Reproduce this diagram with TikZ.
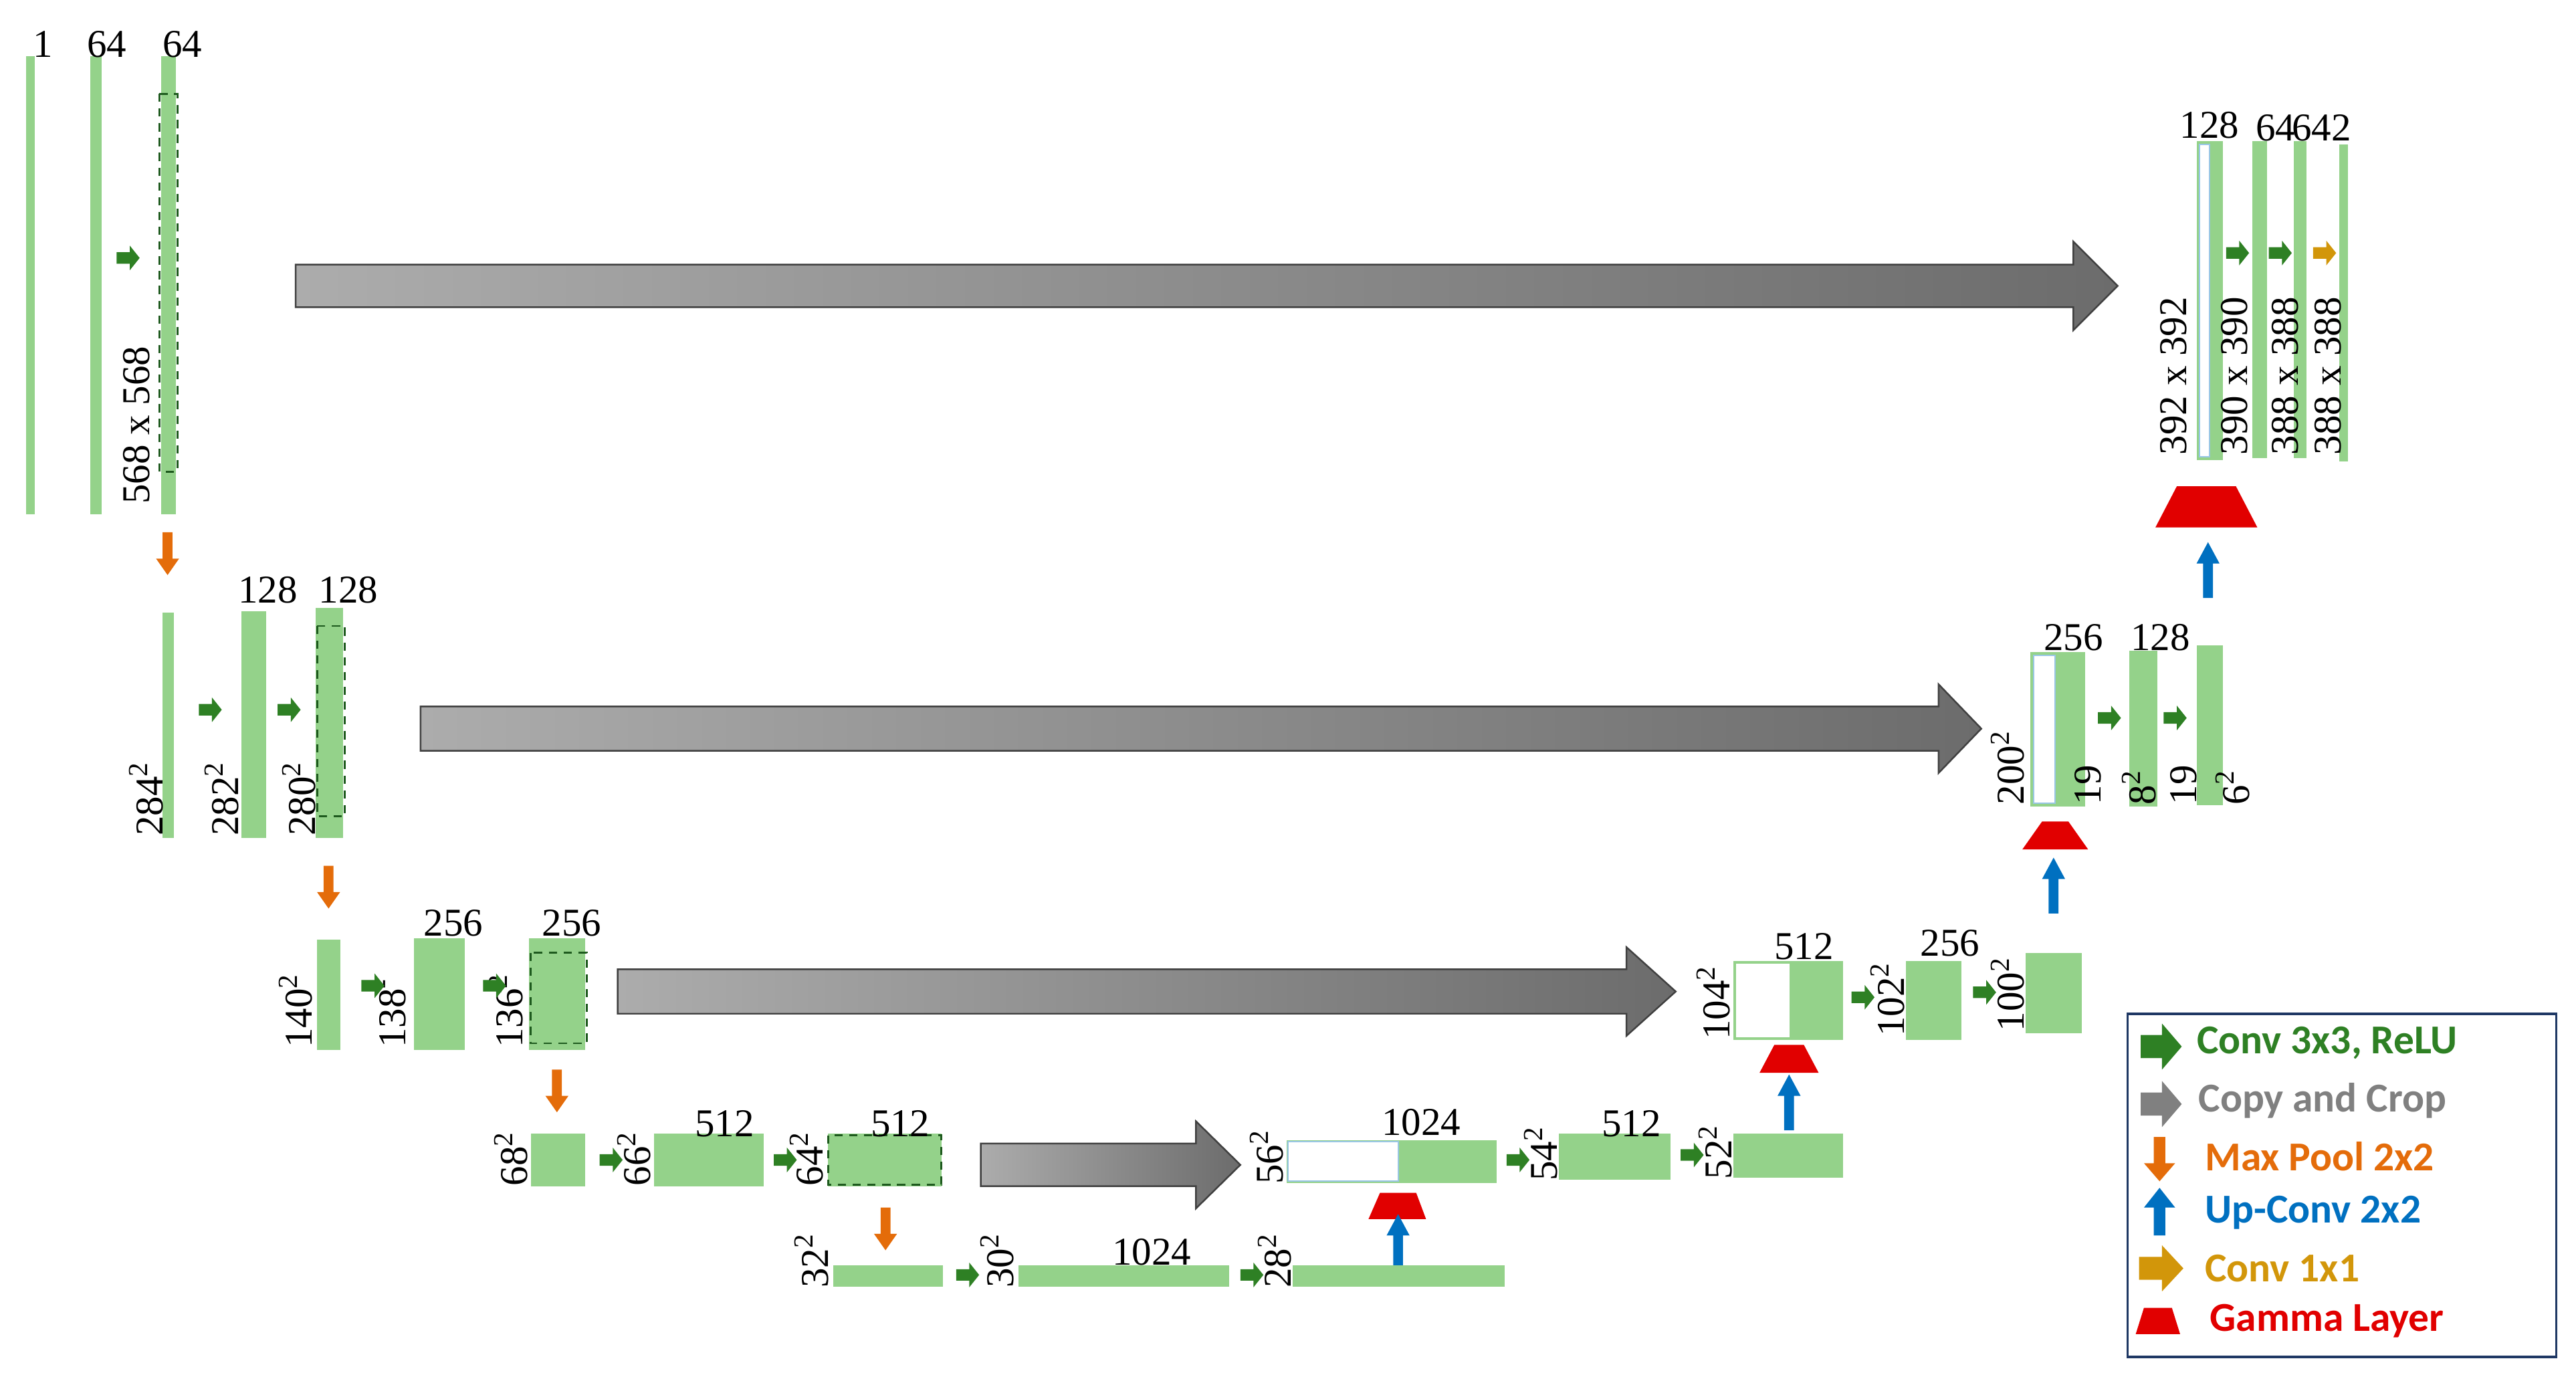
\documentclass[tikz,border=0pt]{standalone}
\usepackage{fontspec}
\newfontfamily\legfont{Carlito}
\newfontfamily\numfont{Liberation Serif}
\begin{document}
\definecolor{barg}{RGB}{148,210,138}
\definecolor{convg}{RGB}{46,128,36}
\definecolor{poolo}{RGB}{228,108,10}
\definecolor{upb}{RGB}{0,112,192}
\definecolor{gold}{RGB}{210,150,10}
\definecolor{gred}{RGB}{225,0,0}
\definecolor{cpl}{RGB}{172,172,172}
\definecolor{cpr}{RGB}{108,108,108}
\definecolor{cpg}{RGB}{128,128,128}
\definecolor{navy}{RGB}{31,56,100}
\definecolor{dashg}{RGB}{30,90,30}
\newcommand\mycparr[6]{\shade[draw=black!75,line width=1pt,left color=cpl,right color=cpr]
 (#1,#4-#5)--(#2,#4-#5)--(#2,#4-#6)--(#3,#4)--(#2,#4+#6)--(#2,#4+#5)--(#1,#4+#5)--cycle;}
\begin{tikzpicture}[x=1pt,y=-1pt,
  bar/.style={fill=barg},
  dsh/.style={draw=dashg,dashed,line width=1.2pt,dash pattern=on 5pt off 4pt},
  num/.style={font=\numfont\fontsize{24}{24}\selectfont,inner sep=0pt},
  vl/.style={num,rotate=90,anchor=west},
  garr/.pic={\fill[convg] (-7,-3.5)--(1,-3.5)--(1,-7.5)--(7,0)--(1,7.5)--(1,3.5)--(-7,3.5)--cycle;},
  oarr/.pic={\fill[gold] (-7,-3.5)--(1,-3.5)--(1,-7.5)--(7,0)--(1,7.5)--(1,3.5)--(-7,3.5)--cycle;},
  parr/.pic={\fill[poolo] (-3,-13)--(3,-13)--(3,3)--(7,3)--(0,13)--(-7,3)--(-3,3)--cycle;},
  uarr/.pic={\fill[upb] (-3,17)--(3,17)--(3,-4)--(7,-4)--(0,-17)--(-7,-4)--(-3,-4)--cycle;}]
\useasboundingbox (0,0) rectangle (1568,838);
% ---------- level 1
\fill[bar] (16,34) rectangle (21,313);
\fill[bar] (55,34) rectangle (62,313);
\fill[bar] (98,34) rectangle (107,313);
\draw[dsh] (97,57) rectangle (108,287);
\node[num] (l1a) at (26,27) {1};
\node[num] (l1b) at (65,27) {64};
\node[num] (l1c) at (111,27) {64};
\node[vl] (l1d) at (83,307) {568 x 568};
\pic at (78,157) {garr};
\mycparr{180}{1262}{1289}{174}{13}{27}
\pic at (102,337) {parr};
% right top
\fill[bar] (1337,86) rectangle (1353,280);
\draw[draw=upb!40,fill=white,line width=0.8pt] (1339,88) rectangle (1345,278);
\fill[bar] (1371,86) rectangle (1380,279);
\fill[bar] (1396,86) rectangle (1404,279);
\fill[bar] (1424,88) rectangle (1429,281);
\node[num] (r1a) at (1345,76) {128};
\node[num] (r1b) at (1385,78) {64};
\node[num] (r1c) at (1413,78) {642};
\node[vl] (r1d) at (1323,277) {392 x 392};
\node[vl] (r1e) at (1360,277) {390 x 390};
\node[vl] (r1f) at (1391,277) {388 x 388};
\node[vl] (r1g) at (1417,277) {388 x 388};
\pic at (1362,154) {garr};
\pic at (1388,154) {garr};
\pic at (1415,154) {oarr};
\fill[gred] (1312,321)--(1374,321)--(1361,296)--(1325,296)--cycle;
\pic at (1344,347) {uarr};
% ---------- level 2
\fill[bar] (99,373) rectangle (106,510);
\fill[bar] (147,372) rectangle (162,510);
\fill[bar] (192,370) rectangle (209,510);
\draw[dsh] (193,381) rectangle (210,497);
\node[num] (l2a) at (163,359) {128};
\node[num] (l2b) at (212,359) {128};
\node[vl] (l2c) at (89,509) {284\textsuperscript{2}};
\node[vl] (l2d) at (135,509) {282\textsuperscript{2}};
\node[vl] (l2e) at (182,509) {280\textsuperscript{2}};
\pic at (128,432) {garr};
\pic at (176,432) {garr};
\mycparr{256}{1180}{1206}{443.5}{13.5}{27}
\pic at (200,540) {parr};
% right
\fill[bar] (1236,397) rectangle (1269,491);
\draw[draw=upb!40,fill=white,line width=0.8pt] (1238,399) rectangle (1251,489);
\fill[bar] (1296,396) rectangle (1313,491);
\fill[bar] (1337,393) rectangle (1353,490);
\node[num] (r2a) at (1262,388) {256};
\node[num] (r2b) at (1315,388) {128};
\node[vl] (r2c) at (1222,490) {200\textsuperscript{2}};
\node[vl] (r2d) at (1271,490) {19};
\node[vl] (r2e) at (1302,490) {8\textsuperscript{2}};
\node[vl] (r2f) at (1329,490) {19};
\node[vl] (r2g) at (1359,490) {6\textsuperscript{2}};
\pic at (1284,437) {garr};
\pic at (1324,437) {garr};
\fill[gred] (1231,517)--(1271,517)--(1259,500)--(1243,500)--cycle;
\pic at (1250,539) {uarr};
% ---------- level 3
\fill[bar] (193,572) rectangle (207,639);
\fill[bar] (252,571) rectangle (283,639);
\fill[bar] (322,571) rectangle (356,639);
\draw[dsh] (323,580) rectangle (357,635);
\node[num] (l3a) at (276,562) {256};
\node[num] (l3b) at (348,562) {256};
\node[vl] (l3c) at (180,638) {140\textsuperscript{2}};
\node[vl] (l3d) at (239,638) {138\textsuperscript{-}};
\node[vl] (l3e) at (308,638) {136\textsuperscript{2}};
\pic at (227,600) {garr};
\pic at (301,600) {garr};
\mycparr{376}{990}{1020}{603.5}{13.5}{27}
\pic at (339,664) {parr};
% right
\fill[bar] (1055,585) rectangle (1122,633);
\draw[draw=barg,fill=white,line width=1.5pt] (1056,586) rectangle (1090,632);
\fill[bar] (1160,585) rectangle (1194,633);
\fill[bar] (1233,580) rectangle (1267,629);
\node[num] (r3a) at (1098,576) {512};
\node[num] (r3b) at (1187,574) {256};
\node[vl] (r3c) at (1043,633) {104\textsuperscript{2}};
\node[vl] (r3d) at (1149,631) {102\textsuperscript{2}};
\node[vl] (r3e) at (1222,628) {100\textsuperscript{2}};
\pic at (1134,607) {garr};
\pic at (1208,604) {garr};
\fill[gred] (1071,653)--(1107,653)--(1098,636)--(1080,636)--cycle;
\pic at (1089,671) {uarr};
% ---------- level 4
\fill[bar] (323,690) rectangle (356,722);
\fill[bar] (398,690) rectangle (465,722);
\fill[bar] (504,690) rectangle (573,722);
\draw[dsh] (504,691) rectangle (573,721);
\node[num] (l4a) at (441,684) {512};
\node[num] (l4b) at (548,684) {512};
\node[vl] (l4c) at (311,722) {68\textsuperscript{2}};
\node[vl] (l4d) at (386,722) {66\textsuperscript{2}};
\node[vl] (l4e) at (491,722) {64\textsuperscript{2}};
\pic at (372,706) {garr};
\pic at (478,706) {garr};
\mycparr{597}{728}{755}{709}{13}{26.5}
\pic at (539,748) {parr};
% right
\fill[bar] (783,694) rectangle (911,720);
\draw[draw=upb!40,fill=white,line width=0.8pt] (784,695) rectangle (851,719);
\fill[bar] (949,690) rectangle (1017,718);
\fill[bar] (1055,690) rectangle (1122,717);
\node[num] (r4a) at (865,683) {1024};
\node[num] (r4b) at (993,684) {512};
\node[vl] (r4c) at (771,721) {56\textsuperscript{2}};
\node[vl] (r4d) at (938,719) {54\textsuperscript{2}};
\node[vl] (r4e) at (1044,718) {52\textsuperscript{2}};
\pic at (924,706) {garr};
\pic at (1030,703) {garr};
\fill[gred] (833,742)--(868,742)--(862,726)--(840,726)--cycle;
\pic at (851,756) {uarr};
% ---------- level 5
\fill[bar] (507,770) rectangle (574,783);
\fill[bar] (620,770) rectangle (748,783);
\fill[bar] (787,770) rectangle (916,783);
\node[num] (l5a) at (701,762) {1024};
\node[vl] (l5b) at (494,784) {32\textsuperscript{2}};
\node[vl] (l5c) at (607,784) {30\textsuperscript{2}};
\node[vl] (l5d) at (776,784) {28\textsuperscript{2}};
\pic at (589,776) {garr};
\pic at (762,776) {garr};
% ---------- legend
\draw[navy,line width=1.5pt] (1295,617) rectangle (1556,826);
\begin{scope}[every node/.style={font=\legfont\bfseries\fontsize{25}{25}\selectfont,anchor=west,inner sep=0pt}]
\fill[convg] (1303,630)--(1316,630)--(1316,623)--(1328,637)--(1316,651)--(1316,644)--(1303,644)--cycle;
\node[text=convg] (g1) at (1337,635) {Conv 3x3, ReLU};
\fill[cpg] (1303,665)--(1316,665)--(1316,658)--(1328,672)--(1316,686)--(1316,679)--(1303,679)--cycle;
\node[text=cpg] (g2) at (1338,670) {Copy and Crop};
\fill[poolo] (1311,692)--(1318,692)--(1318,708)--(1324,708)--(1314.5,719)--(1305,708)--(1311,708)--cycle;
\node[text=poolo] (g3) at (1342,704) {Max Pool 2x2};
\fill[upb] (1311,752)--(1318,752)--(1318,735)--(1324,735)--(1314.5,723)--(1305,735)--(1311,735)--cycle;
\node[text=upb] (g4) at (1342,738) {Up-Conv 2x2};
\fill[gold] (1302,765)--(1316,765)--(1316,758)--(1329,772)--(1316,786)--(1316,779)--(1302,779)--cycle;
\node[text=gold] (g5) at (1342,772) {Conv 1x1};
\fill[gred] (1300,812)--(1327,812)--(1322,796)--(1305,796)--cycle;
\node[text=gred] (g6) at (1345,804) {Gamma Layer};
\end{scope}
\end{tikzpicture}
\end{document}
